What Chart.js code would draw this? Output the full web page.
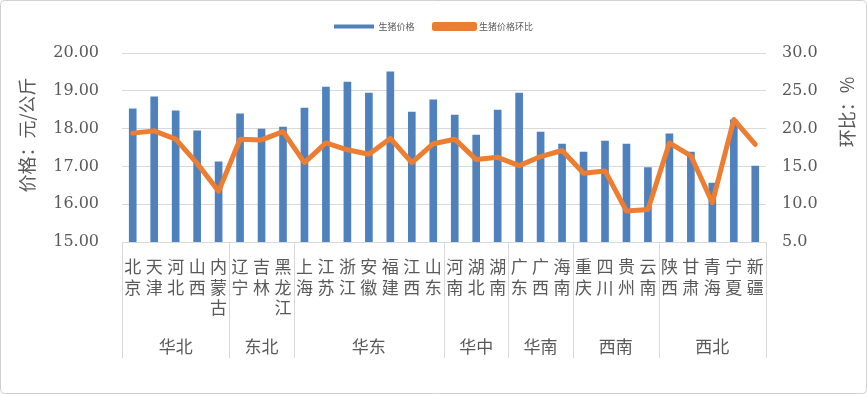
<!DOCTYPE html>
<html>
<head>
<meta charset="utf-8">
<script src="https://cdn.jsdelivr.net/npm/chart.js@4"></script>
<style>
  html, body { margin: 0; padding: 0; background: #fff; }
  canvas { display: block; }
</style>
</head>
<body>
<canvas id="pigChart" width="867" height="394"></canvas>
<script>
// Provinces (x categories), grouped by region
const provinces = ["北京", "天津", "河北", "山西", "内蒙古", "辽宁", "吉林", "黑龙江",
  "上海", "江苏", "浙江", "安徽", "福建", "江西", "山东", "河南", "湖北", "湖南",
  "广东", "广西", "海南", "重庆", "四川", "贵州", "云南", "陕西", "甘肃", "青海", "宁夏", "新疆"];
const regions = ["华北", "东北", "华东", "华中", "华南", "西南", "西北"];
const regionSizes = [5, 3, 7, 3, 3, 4, 5];

// Price, yuan/kg (left axis)
const prices = [18.52, 18.84, 18.47, 17.94, 17.12, 18.39, 17.99, 18.04,
  18.54, 19.10, 19.23, 18.94, 19.50, 18.44, 18.76, 18.36, 17.83, 18.49,
  18.94, 17.91, 17.59, 17.38, 17.67, 17.59, 16.97, 17.86, 17.38, 16.56, 18.23, 17.01];
// Month-on-month, % (right axis)
const mom = [19.4, 19.7, 18.6, 15.4, 11.7, 18.6, 18.5, 19.6,
  15.5, 18.1, 17.2, 16.6, 18.7, 15.5, 18.0, 18.6, 15.9, 16.2,
  15.1, 16.3, 17.1, 14.1, 14.4, 9.1, 9.3, 18.1, 16.4, 10.2, 21.2, 17.9];

const leftTicks = [15, 16, 17, 18, 19, 20];
const rightTicks = [5, 10, 15, 20, 25, 30];

const textColor = "#595959";
const gridColor = "#d9d9d9";
const cjk = "'Noto Sans CJK SC', sans-serif";
const digits = "'DejaVu Serif'";

// Legend ends where the plot starts
const legendSpace = {
  id: "legendSpace",
  afterInit(chart) {
    const fit = chart.legend.fit;
    chart.legend.fit = function () {
      fit.call(this);
      this.height = 51;
    };
  },
};

// Axis titles, region row under the province labels, frame
const extras = {
  id: "extras",
  afterDraw(chart) {
    const ctx = chart.ctx;
    const xs = chart.scales.x;
    const area = chart.chartArea;
    const half = (xs.getPixelForValue(1) - xs.getPixelForValue(0)) / 2;
    const bottom = 358;

    ctx.save();
    ctx.fillStyle = textColor;
    ctx.textAlign = "center";
    ctx.textBaseline = "middle";
    ctx.font = "18px " + cjk;
    // both titles read bottom-to-top
    [["价格：元/公斤", 27, 135], ["环比：%", 847, 112]].forEach(([t, x, y]) => {
      ctx.save();
      ctx.translate(x, y);
      ctx.rotate(-Math.PI / 2);
      ctx.fillText(t, 0, 0);
      ctx.restore();
    });

    ctx.strokeStyle = gridColor;
    ctx.lineWidth = 1;
    ctx.beginPath();
    ctx.moveTo(area.left, Math.round(area.bottom) + 0.5);
    ctx.lineTo(area.right, Math.round(area.bottom) + 0.5);
    ctx.stroke();

    let start = 0;
    ctx.font = "17px " + cjk;
    regions.forEach((name, g) => {
      const end = start + regionSizes[g] - 1;
      const x0 = xs.getPixelForValue(start) - half;
      const x1 = xs.getPixelForValue(end) + half;
      [x0, x1].forEach((x) => {
        ctx.beginPath();
        ctx.moveTo(Math.round(x) + 0.5, area.bottom);
        ctx.lineTo(Math.round(x) + 0.5, bottom);
        ctx.stroke();
      });
      ctx.fillText(name, (x0 + x1) / 2, 347);
      start = end + 1;
    });

    ctx.strokeStyle = "#d0d0d0";
    ctx.beginPath();
    ctx.roundRect(0.5, 0.5, chart.width - 1, chart.height - 1, 4);
    ctx.stroke();
    ctx.restore();
  },
};

new Chart(document.getElementById("pigChart").getContext("2d"), {
  type: "bar",
  data: {
    labels: provinces,
    datasets: [
      {
        label: "生猪价格",
        data: prices,
        yAxisID: "y",
        backgroundColor: "#4f81bd",
        borderWidth: 0,
        barThickness: 7,
        order: 2,
      },
      {
        type: "line",
        label: "生猪价格环比",
        data: mom,
        yAxisID: "y1",
        borderColor: "#ed7d31",
        backgroundColor: "#ed7d31",
        borderWidth: 5,
        pointRadius: 0,
        tension: 0,
        borderJoinStyle: "round",
        borderCapStyle: "round",
        order: 1,
      },
    ],
  },
  options: {
    responsive: false,
    animation: false,
    devicePixelRatio: 1,
    layout: { padding: { top: 2, left: 10, right: 10, bottom: 2 } },
    plugins: {
      legend: {
        position: "top",
        labels: {
          boxWidth: 40,
          boxHeight: 4,
          padding: 20,
          color: textColor,
          font: { size: 9, family: cjk },
          sort: (a, b) => a.datasetIndex - b.datasetIndex,
        },
      },
      tooltip: { enabled: false },
    },
    scales: {
      x: {
        offset: true,
        grid: { display: false },
        border: { display: false },
        ticks: {
          autoSkip: false,
          maxRotation: 0,
          minRotation: 0,
          padding: 6,
          color: textColor,
          font: { size: 17, family: cjk, lineHeight: 1.22 },
          callback: (v, i) => provinces[i].split(""),
        },
        afterFit: (s) => { s.height = 394 - 2 - 242; },
      },
      y: {
        position: "left",
        min: 15,
        max: 20,
        afterBuildTicks: (s) => { s.ticks = leftTicks.map((v) => ({ value: v })); },
        grid: { color: gridColor, drawTicks: false },
        border: { display: false },
        ticks: {
          padding: 23,
          color: textColor,
          font: { size: 16, family: digits },
          callback: (v) => Number(v).toFixed(2),
        },
        afterFit: (s) => { s.width = 112; },
      },
      y1: {
        position: "right",
        min: 5,
        max: 30,
        afterBuildTicks: (s) => { s.ticks = rightTicks.map((v) => ({ value: v })); },
        grid: { display: false, drawTicks: false },
        border: { display: false },
        ticks: {
          padding: 16,
          color: textColor,
          font: { size: 16, family: digits },
          callback: (v) => Number(v).toFixed(1),
        },
        afterFit: (s) => { s.width = 91; },
      },
    },
  },
  plugins: [legendSpace, extras],
});
</script>
</body>
</html>
